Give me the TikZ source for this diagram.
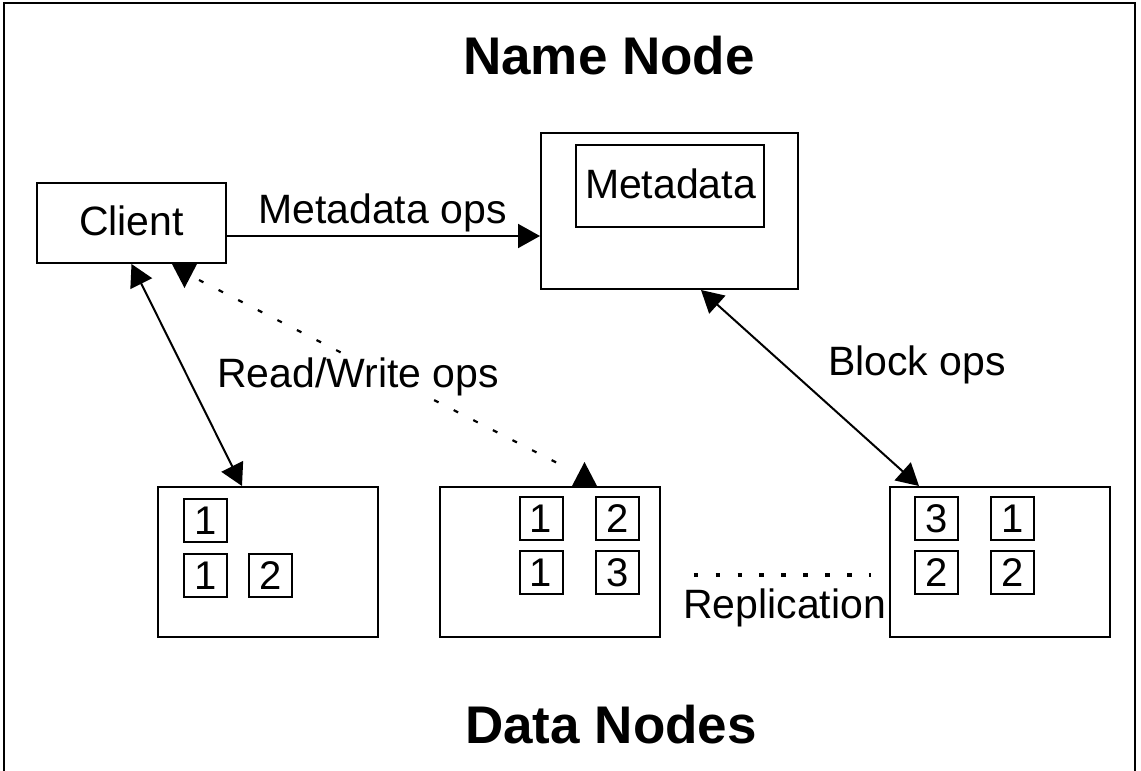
\documentclass[tikz,border=0pt]{standalone}
\usepackage{fontspec}
\setmainfont{Liberation Sans}
\usetikzlibrary{arrows.meta,calc}
\begin{document}
\begin{tikzpicture}[x=1pt,y=-1pt,
  frame/.style={draw=black, line width=2pt, inner sep=0pt},
  lbl/.style={font=\fontsize{41}{48}\selectfont, inner sep=0pt, anchor=base west},
  ttl/.style={font=\fontsize{53}{60}\selectfont\bfseries, inner sep=0pt, anchor=base},
  blk/.style={draw=black, line width=2pt, minimum width=43pt, minimum height=43pt, inner sep=0pt,
    font=\fontsize{40}{48}\selectfont, text height=28.5pt, text depth=0pt},
  conn/.style={line width=2pt},
  tipA/.tip={Triangle[length=22pt,width=24pt]}
]
\useasboundingbox (0,0) rectangle (1141,771);
% outer frame (open at bottom)
\draw[line width=2pt] (4,771) -- (4,3) -- (1135,3) -- (1135,771);

% titles
\node[ttl] (tname) at (609,74) {Name Node};
\node[ttl] (tdata) at (611,743) {Data Nodes};

% client
\node[frame, minimum width=189pt, minimum height=80pt] (client) at (131.5,223) {};
\node[lbl, anchor=base] (clientlbl) at (131.5,235) {Client};

% name node
\node[frame, minimum width=257pt, minimum height=156pt] (nn) at (669.5,211) {};
\node[frame, minimum width=188.5pt, minimum height=81.7pt] (meta) at (670.2,185.9) {};
\node[lbl, anchor=base] (metalbl) at (670.5,198) {Metadata};

% data nodes
\node[frame, minimum width=220pt, minimum height=150pt] (dn1) at (268,562) {};
\node[frame, minimum width=220pt, minimum height=150pt] (dn2) at (550,562) {};
\node[frame, minimum width=220pt, minimum height=150pt] (dn3) at (1000,562) {};

% blocks
\node[blk] (b11) at (205.5,520.5) {1};
\node[blk] (b12) at (205.5,575.5) {1};
\node[blk] (b13) at (270.5,575.5) {2};
\node[blk] (b21) at (541,518.5) {1};
\node[blk] (b22) at (617.5,518.5) {2};
\node[blk] (b23) at (541,572.5) {1};
\node[blk] (b24) at (617.5,572.5) {3};
\node[blk] (b31) at (936.5,518) {3};
\node[blk] (b32) at (1012.5,518) {1};
\node[blk] (b33) at (936.5,572) {2};
\node[blk] (b34) at (1012.5,572) {2};

% metadata ops
\draw[conn, -tipA] (client.east |- 0,236) -- (nn.west |- 0,236);
\node[lbl] (mopslbl) at (258,223) {Metadata ops};

% client <-> dn1
\draw[conn, tipA-tipA] (client.south) -- ($(dn1.north west)+(85,0)$);

% block ops
\draw[conn, tipA-tipA] ($(nn.south west)+(161,0)$) -- ($(dn3.north west)+(30,0)$);
\node[lbl] (bopslbl) at (828,375) {Block ops};

% read/write dotted
\coordinate (rwA) at ($(client.south west)+(163,16)$);
\coordinate (rwB) at ($(dn2.north west)+(130,-17)$);
\draw[line width=2.2pt, dash pattern=on 5pt off 17pt] (rwA) -- (rwB);
\fill ($(client.south west)+(136,0)$) -- ++(25,0) -- ++(-12.5,24) -- cycle;
\fill ($(dn2.north west)+(133,0)$) -- ++(25,0) -- ++(-12.5,-24) -- cycle;
\node[lbl, fill=white, inner xsep=3pt, inner ysep=2pt] (rwlbl) at (214,387) {Read/Write ops};

% replication
\draw[line width=4.5pt, dash pattern=on 4.5pt off 17.4pt] ($(dn2.east)+(32.75,13)$) -- ($(dn3.west)+(-17.75,13)$);
\node[lbl] (replbl) at (683,618) {Replication};
\end{tikzpicture}
\end{document}
